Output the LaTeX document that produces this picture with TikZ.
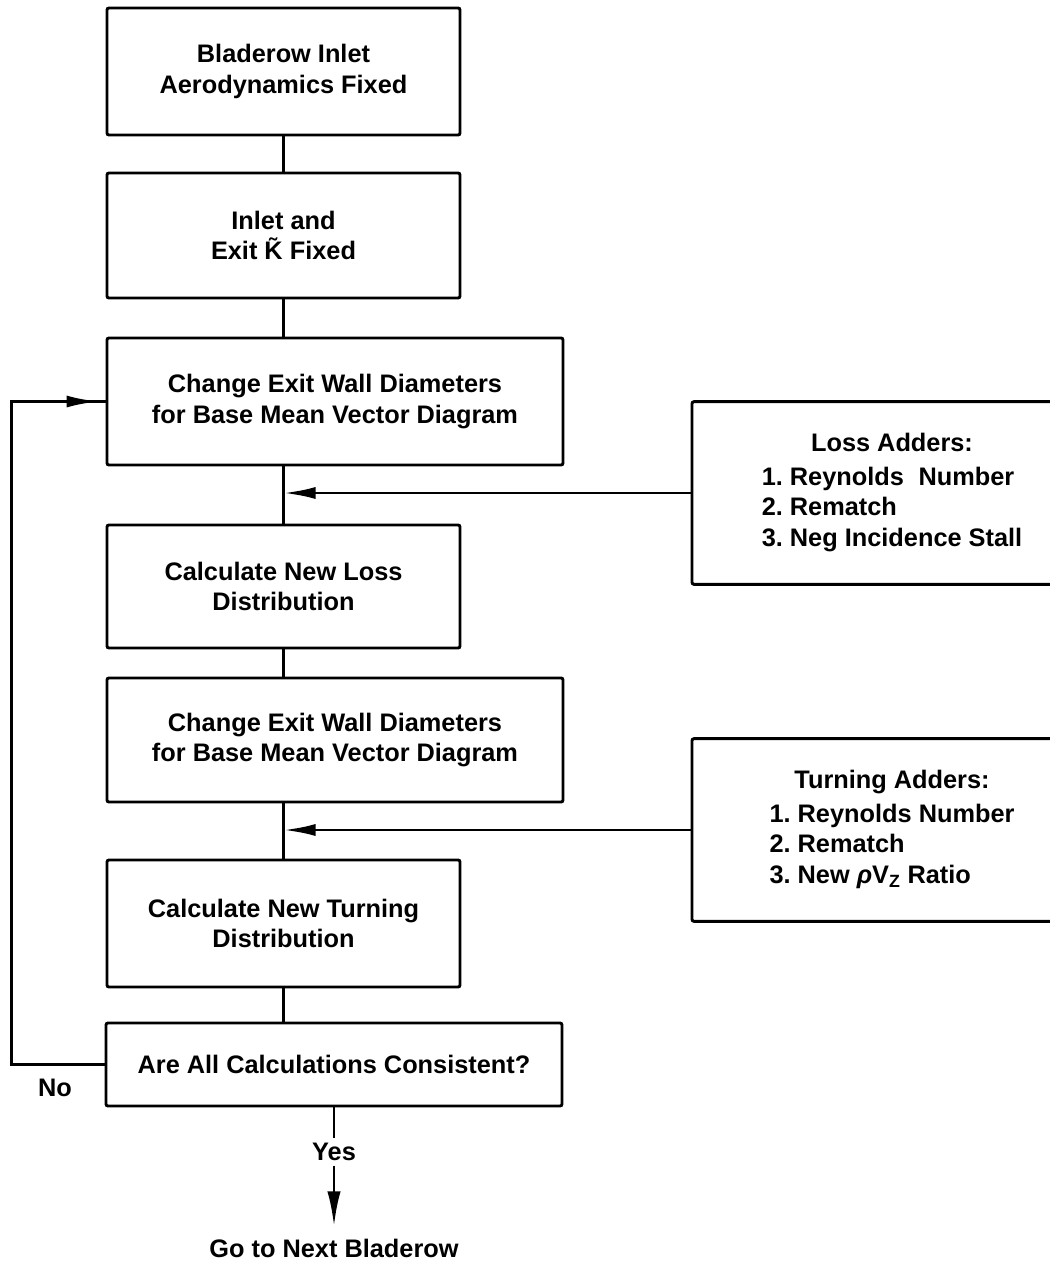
\documentclass[tikz,border=0pt]{standalone}
\usepackage{fontspec}
\setmainfont{Liberation Sans}
\usetikzlibrary{arrows.meta,calc}
\frenchspacing
\begin{document}
\begin{tikzpicture}[x=0.75pt,y=-0.75pt,
  every node/.style={font=\fontsize{19pt}{23pt}\selectfont\bfseries},
  box/.style={draw,line width=2.2pt,rounded corners=1.5pt,align=center,inner sep=0pt},
  narrowbox/.style={box,minimum width=264.75pt},
  widebox/.style={box,minimum width=342pt},
  sidebox/.style={box,minimum width=300pt,minimum height=137pt},
  ln/.style={line width=2.2pt},
  arr/.style={line width=2.2pt,-{Latex[length=24pt,width=9pt]}},
  bigarr/.style={line width=2.2pt,-{Latex[length=26pt,width=10pt]}},
]
\useasboundingbox (0,0) rectangle (1049,1263);

\node[narrowbox,minimum height=95.25pt] (b1) at (283.5,71.5) {Bladerow Inlet\\Aerodynamics Fixed};
\node[narrowbox,minimum height=93.75pt] (b2) at (283.5,235.5) {Inlet and\\Exit \~{K} Fixed};
\node[widebox,minimum height=95.25pt] (b3) at (335,401.5) {Change Exit Wall Diameters\\for Base Mean Vector Diagram};
\node[narrowbox,minimum height=92.25pt] (b4) at (283.5,586.5) {Calculate New Loss\\Distribution};
\node[widebox,minimum height=93pt] (b5) at (335,740) {Change Exit Wall Diameters\\for Base Mean Vector Diagram};
\node[narrowbox,minimum height=95.25pt] (b6) at (283.5,923.5) {Calculate New Turning\\Distribution};
\node[widebox,minimum height=62.25pt] (b7) at (334,1064.5) {Are All Calculations Consistent?};

\node[sidebox] (loss) at (892,493) {\begin{tabular}{@{}l@{}}\multicolumn{1}{@{}c@{}}{Loss Adders:}\\[2pt]
1. Reynolds\hspace{0.3em} Number\\ 2. Rematch\\ 3. Neg Incidence Stall\end{tabular}};
\node[sidebox] (turn) at (892,830) {\begin{tabular}{@{}l@{}}\multicolumn{1}{@{}c@{}}{Turning Adders:}\\[2pt]
1. Reynolds Number\\ 2. Rematch\\ 3. New \textit{ρ}V\textsubscript{Z} Ratio\end{tabular}};

\node (no) at (55,1088) {No};
\node (yes) at (334,1152) {Yes};
\node (go) at (334,1248) {Go to Next Bladerow};

% main chain
\draw[ln] (b1.south) -- (b2.north);
\draw[ln] (b2.south) -- (b2.south |- b3.north);
\draw[ln] (b4.north) -- (b4.north |- b3.south);
\draw[ln] (b4.south) -- (b4.south |- b5.north);
\draw[ln] (b6.north) -- (b6.north |- b5.south);
\draw[ln] (b6.south) -- (b6.south |- b7.north);

% adders
\draw[arr] (loss.west) -- (loss.west -| b4.north);
\draw[arr] (turn.west) -- (turn.west -| b6.north);

% feedback loop
\coordinate (fb1) at ($(b7.west)+(-93,0)$);
\coordinate (fb2) at (fb1 |- b3.west);
\draw[ln] (b7.west) -- (fb1) -- (fb2) -- (b3.west);
\draw[arr] (fb2) -- ($(b3.west)+(-7,0)$);

% exit
\draw[ln] (b7.south) -- (yes.north);
\draw[bigarr,shorten >=6pt] (yes.south) -- (go.north);
\end{tikzpicture}
\end{document}
